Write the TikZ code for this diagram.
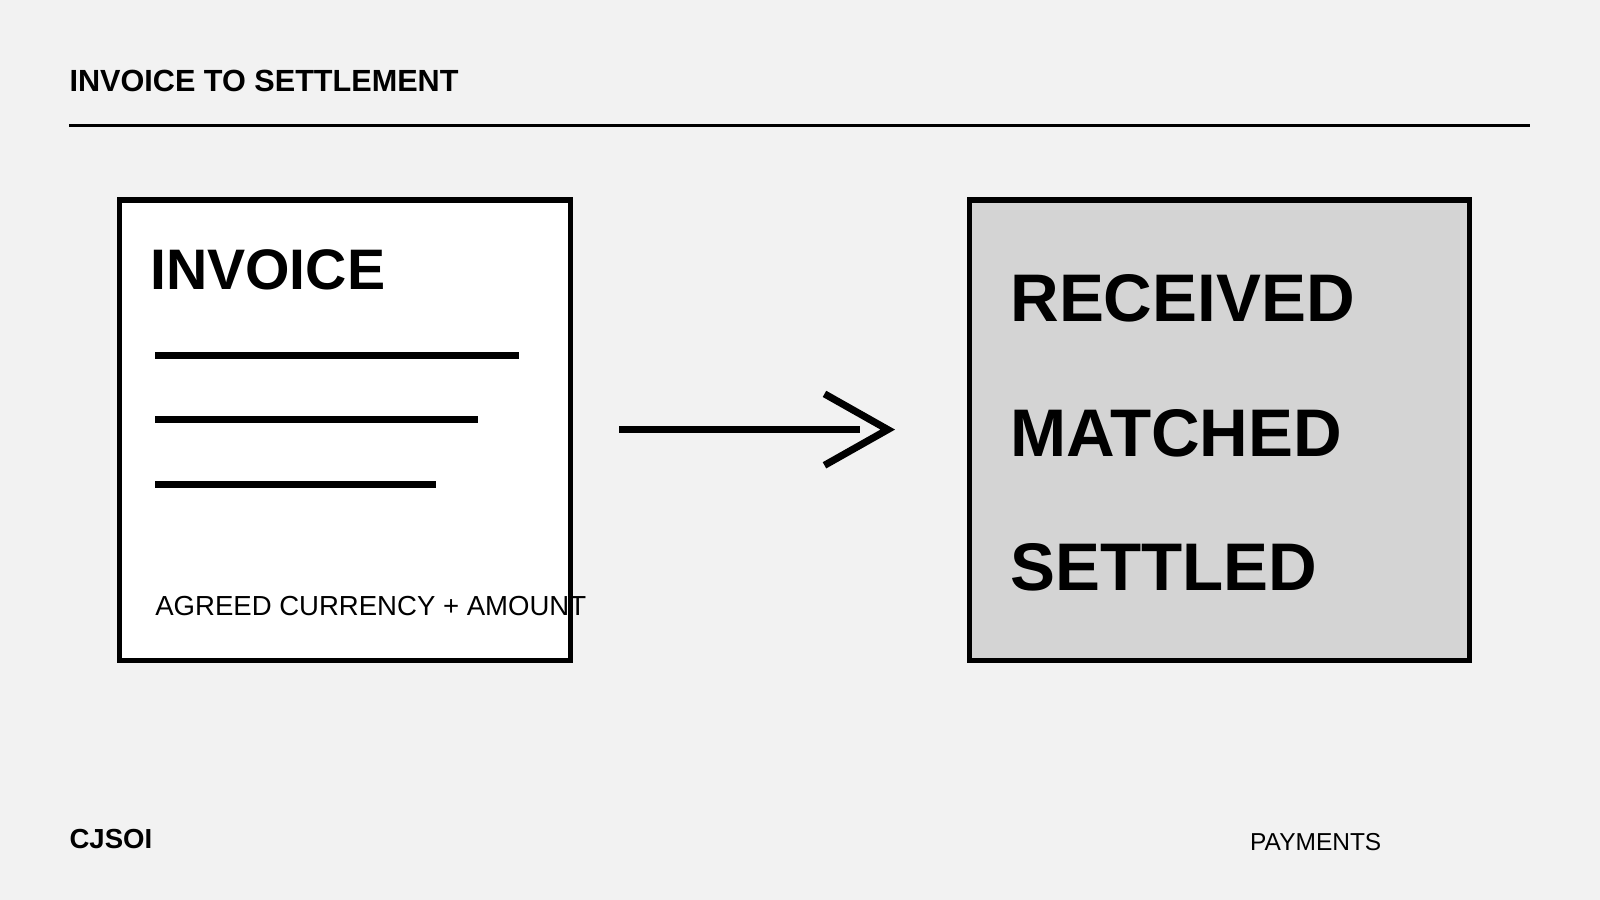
\documentclass[tikz,border=0pt]{standalone}
\usepackage{fontspec}
\setmainfont{Liberation Sans}
\begin{document}
\begin{tikzpicture}[x=1pt,y=-1pt,
  box/.style={draw=black,line width=5pt},
  bar/.style={line width=7pt},
  txt/.style={anchor=base west,inner sep=0pt}]
\useasboundingbox[fill={rgb,255:red,242;green,242;blue,242}] (0,0) rectangle (1568,882);
\node[txt,font=\bfseries\fontsize{30}{36}\selectfont] (title) at (68,90) {INVOICE TO SETTLEMENT};
\draw[line width=2.5pt] (68,123) coordinate (r1) -- (1499,123) coordinate (r2);
\node[box,fill=white,minimum width=0,inner sep=0pt,anchor=north west] (inv) at (117,196) {};
\draw[box,fill=white] (117,196) rectangle (559,647);
\coordinate (invnw) at (117,196);
\node[txt,font=\bfseries\fontsize{56}{60}\selectfont] (invt) at (147,284) {INVOICE};
\draw[bar] (152,348) coordinate (a1) -- (509,348) coordinate (a2);
\draw[bar] (152,411) coordinate (b1) -- (468,411) coordinate (b2);
\draw[bar] (152,475) coordinate (c1) -- (427,475) coordinate (c2);
\node[txt,font=\fontsize{27}{32}\selectfont] (amt) at (152,603) {AGREED CURRENCY + AMOUNT};
\draw[box,fill={rgb,255:red,212;green,212;blue,212}] (950,196) rectangle (1440,647);
\node[txt,font=\bfseries\fontsize{66}{70}\selectfont] (rec) at (990,315) {RECEIVED};
\node[txt,font=\bfseries\fontsize{66}{70}\selectfont] (mat) at (990,447) {MATCHED};
\node[txt,font=\bfseries\fontsize{66}{70}\selectfont] (set) at (990,579) {SETTLED};
\coordinate (s) at (607,421);
\coordinate (e) at (870,421);
\draw[line width=7pt] (s) -- (843,421);
\draw[line width=7pt,line join=miter] (808,386) -- (e) -- (808,456);
\node[txt,font=\bfseries\fontsize{27}{32}\selectfont] (cj) at (68,832) {CJSOI};
\node[txt,font=\fontsize{24}{30}\selectfont] (pay) at (1225,833) {PAYMENTS};
\end{tikzpicture}
\end{document}
